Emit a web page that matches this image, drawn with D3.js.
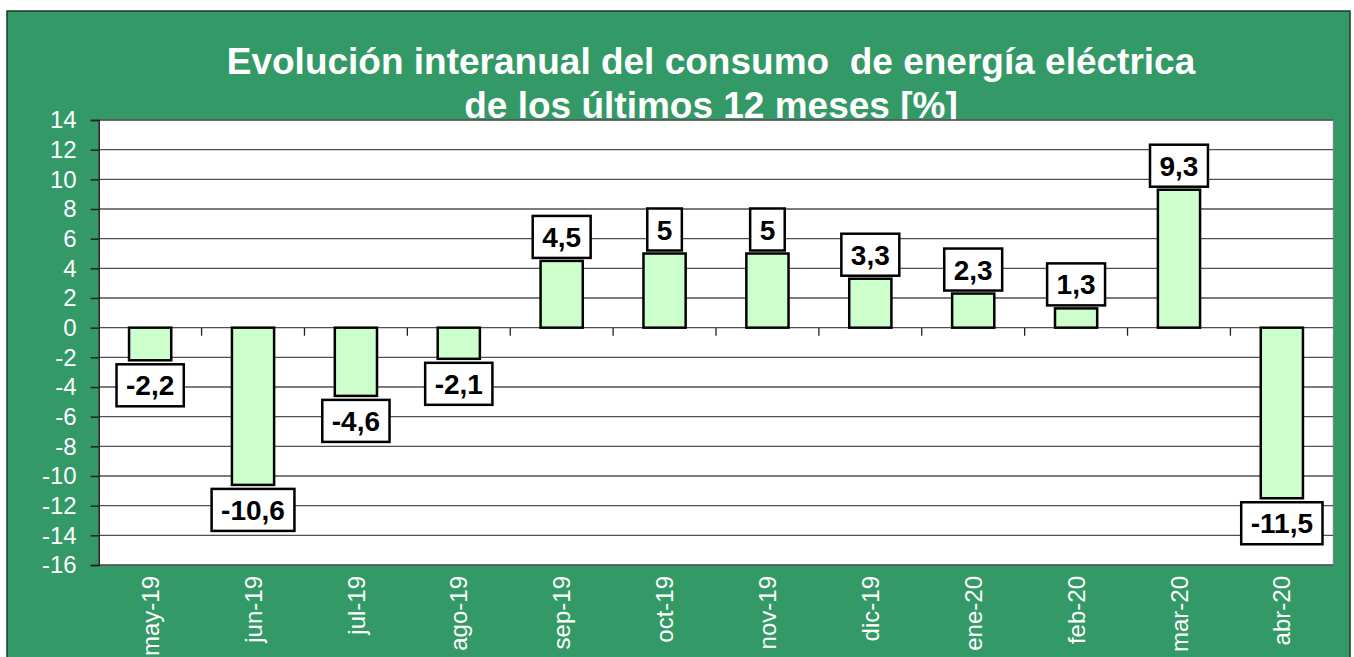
<!DOCTYPE html>
<html>
<head>
<meta charset="utf-8">
<script src="https://cdn.jsdelivr.net/npm/d3@7"></script>
<style>
  body { margin: 0; background: #ffffff; }
  svg { display: block; font-family: "Liberation Sans", Arial, sans-serif; }
</style>
</head>
<body>
<div id="vis"></div>
<script>
// data
var months = ["may-19", "jun-19", "jul-19", "ago-19", "sep-19", "oct-19",
              "nov-19", "dic-19", "ene-20", "feb-20", "mar-20", "abr-20"];
var values = [-2.2, -10.6, -4.6, -2.1, 4.5, 5, 5, 3.3, 2.3, 1.3, 9.3, -11.5];
var yTicks = d3.range(-16, 15, 2);
var titleLines = ["Evolución interanual del consumo  de energía eléctrica",
                  "de los últimos 12 meses [%]"];

var W = 1354, H = 657;
var plot = {left: 98.7, top: 120, right: 1333.3, bottom: 565};

var svg = d3.select("#vis").append("svg")
    .attr("width", W)
    .attr("height", H);

// green frame
svg.append("rect")
    .attr("x", 7).attr("y", 11)
    .attr("width", 1343).attr("height", 700)
    .attr("fill", "#339966")
    .attr("stroke", "#1a3a2a")
    .attr("stroke-width", 1.5);

// title
svg.append("text")
    .attr("x", 711)
    .attr("y", 74)
    .attr("text-anchor", "middle")
    .attr("fill", "#ffffff")
    .attr("font-weight", "bold")
    .attr("font-size", 37)
    .selectAll("tspan")
    .data(titleLines)
    .enter()
    .append("tspan")
      .attr("x", 711)
      .attr("dy", function(d, i){ return i === 0 ? 0 : 44 })
      .style("white-space", "pre")
      .text(function(d){ return d });

var x = d3.scaleBand()
    .domain(months)
    .range([plot.left, plot.right])
    .padding(0);

var y = d3.scaleLinear()
    .domain([-16, 14])
    .range([plot.bottom, plot.top]);

// plot background
svg.append("rect")
    .attr("x", plot.left).attr("y", plot.top)
    .attr("width", plot.right - plot.left)
    .attr("height", plot.bottom - plot.top)
    .attr("fill", "#ffffff")
    .attr("stroke", "#808080")
    .attr("stroke-width", 1);

// gridlines
svg.append("g")
  .selectAll("line")
  .data(yTicks)
  .enter()
  .append("line")
    .attr("x1", plot.left).attr("x2", plot.right)
    .attr("y1", function(d){ return y(d) })
    .attr("y2", function(d){ return y(d) })
    .attr("stroke", "#505050")
    .attr("stroke-width", 1.3);

// y axis
var yAxis = svg.append("g")
    .attr("transform", "translate(" + plot.left + ",0)")
    .call(d3.axisLeft(y).tickValues(yTicks).tickSize(8).tickPadding(14)
      .tickFormat(function(d){ return String(d) }));
yAxis.select(".domain").attr("stroke", "#202020").attr("stroke-width", 1.5);
yAxis.selectAll(".tick line").attr("stroke", "#202020").attr("stroke-width", 1.5);
yAxis.selectAll(".tick text")
    .attr("fill", "#ffffff")
    .attr("font-size", 24)
    .attr("font-family", "Liberation Sans, Arial, sans-serif");

// x ticks on the zero line, at band boundaries
svg.append("g")
  .selectAll("line")
  .data(months.slice(1))
  .enter()
  .append("line")
    .attr("x1", function(d){ return x(d) })
    .attr("x2", function(d){ return x(d) })
    .attr("y1", y(0))
    .attr("y2", y(0) + 8)
    .attr("stroke", "#202020")
    .attr("stroke-width", 1.3);

// x labels
svg.append("g")
  .selectAll("text")
  .data(months)
  .enter()
  .append("text")
    .attr("transform", function(d){
      return "translate(" + (x(d) + x.bandwidth() / 2) + "," + (plot.bottom + 11) + ") rotate(-90)";
    })
    .attr("dy", "0.36em")
    .attr("text-anchor", "end")
    .attr("fill", "#ffffff")
    .attr("font-size", 24)
    .text(function(d){ return d });

// bars
var barW = x.bandwidth() * 0.41;
var data = months.map(function(m, i){ return {month: m, value: values[i]} });

svg.append("g")
  .selectAll("rect")
  .data(data)
  .enter()
  .append("rect")
    .attr("x", function(d){ return x(d.month) + (x.bandwidth() - barW) / 2 })
    .attr("y", function(d){ return y(Math.max(0, d.value)) })
    .attr("width", barW)
    .attr("height", function(d){ return Math.abs(y(d.value) - y(0)) })
    .attr("fill", "#ccffcc")
    .attr("stroke", "#000000")
    .attr("stroke-width", 2.5);

// value labels in boxes
var fmt = function(v){ return String(v).replace(".", ",") };
var labels = svg.append("g")
  .selectAll("g")
  .data(data)
  .enter()
  .append("g");

var boxH = 42;
labels.each(function(d){
  var g = d3.select(this);
  var cx = x(d.month) + x.bandwidth() / 2;
  var top = d.value >= 0 ? y(d.value) - boxH - 3 : y(d.value) + 4;
  var t = g.append("text")
      .attr("x", cx)
      .attr("y", top + boxH / 2)
      .attr("dy", "0.36em")
      .attr("text-anchor", "middle")
      .attr("font-weight", "bold")
      .attr("font-size", 28)
      .attr("fill", "#000000")
      .text(fmt(d.value));
  var tw = t.node().getComputedTextLength() + 19;
  g.insert("rect", "text")
      .attr("x", cx - tw / 2)
      .attr("y", top)
      .attr("width", tw)
      .attr("height", boxH)
      .attr("fill", "#ffffff")
      .attr("stroke", "#000000")
      .attr("stroke-width", 2.5);
});
</script>
</body>
</html>
